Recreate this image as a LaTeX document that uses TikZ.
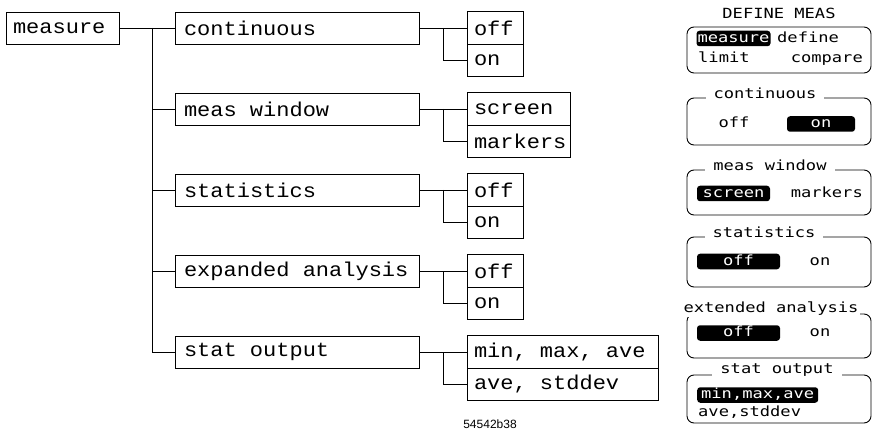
\documentclass[tikz,border=0pt]{standalone}
\usepackage{fontspec}
\usepackage{tikz}
\usetikzlibrary{positioning,calc}
\newfontfamily\plotfont[FakeStretch=1.1]{Liberation Mono}
\newfontfamily\lcdfont[FakeStretch=1.22]{DejaVu Sans Mono}
\newfontfamily\tagfont{Liberation Sans}

\begin{document}
\begin{tikzpicture}[
x=1pt,y=-1pt,
box/.style={draw,line width=0.8pt,outer sep=0pt,inner xsep=7pt,inner ysep=2pt,font=\plotfont\fontsize{20}{22}\selectfont,
  execute at begin node={\spaceskip=13.2pt\relax}},
mainbox/.style={box,text width=226pt,inner xsep=9pt,minimum height=32pt},
subbox/.style={box,text width=#1,minimum height=32.5pt},
link/.style={line width=0.8pt},
panel/.style={draw,line width=0.9pt,rounded corners=7pt},
lcd/.style={inner xsep=1pt,inner ysep=1pt,text height=10.5pt,text depth=3pt,font=\lcdfont\fontsize{14}{16}\selectfont},
ptitle/.style={lcd,fill=white,inner xsep=8pt},
hl/.style={lcd,fill=black,text=white,rounded corners=3pt,inner xsep=1pt}
]
\useasboundingbox (0,0) rectangle (872,430);

\node[mainbox,anchor=west] (cont) at (175,28) {continuous};
\node[mainbox,below=49pt of cont] (win) {meas window};
\node[mainbox,below=49pt of win] (stats) {statistics};
\node[mainbox,below=49pt of stats] (expd) {expanded analysis};
\node[mainbox,below=49pt of expd] (sout) {stat output};
\node[box,text width=99pt,minimum height=32pt,left=56pt of cont] (measure) {measure};

\node[subbox=42pt,right=48pt of cont] (contoff) {off};
\node[subbox=42pt,below=0pt of contoff] (conton) {on};
\node[subbox=89pt,right=48pt of win] (winscr) {screen};
\node[subbox=89pt,below=0pt of winscr] (winmark) {markers};
\node[subbox=42pt,right=48pt of stats] (statsoff) {off};
\node[subbox=42pt,below=0pt of statsoff] (statson) {on};
\node[subbox=42pt,right=48pt of expd] (expdoff) {off};
\node[subbox=42pt,below=0pt of expdoff] (expdon) {on};
\node[subbox=177pt,right=48pt of sout] (soutmin) {min, max, ave};
\node[subbox=177pt,below=0pt of soutmin] (soutdev) {ave, stddev};

\coordinate (trunk) at (152,28);
\draw[link] (measure) -- (cont);
\draw[link] (trunk) |- (sout);
\draw[link] (trunk |- win) -- (win);
\draw[link] (trunk |- stats) -- (stats);
\draw[link] (trunk |- expd) -- (expd);

\draw[link] (cont) -- (contoff);
\draw[link] ($(cont.east)!.5!(contoff.west)$) |- (conton);
\draw[link] (win) -- (winscr);
\draw[link] ($(win.east)!.5!(winscr.west)$) |- (winmark);
\draw[link] (stats) -- (statsoff);
\draw[link] ($(stats.east)!.5!(statsoff.west)$) |- (statson);
\draw[link] (expd) -- (expdoff);
\draw[link] ($(expd.east)!.5!(expdoff.west)$) |- (expdon);
\draw[link] (sout) -- (soutmin);
\draw[link] ($(sout.east)!.5!(soutmin.west)$) |- (soutdev);

\node[font=\tagfont\fontsize{12}{12}\selectfont] (figid) at (490,424) {54542b38};

\node[lcd] (dtitle) at (779,15) {DEFINE MEAS};
\draw[panel] (687,27) rectangle (871,73);
\node[hl,minimum width=73pt] (pmeasure) at (733.5,38.5) {measure};
\node[lcd,anchor=west] (pdefine) at (776,38.5) {define};
\node[lcd,anchor=west] (plimit) at (697,59) {limit};
\node[lcd,anchor=east] (pcompare) at (864,59) {compare};

\draw[panel] (687,98) rectangle (871,145);
\node[ptitle] (tcont) at (765,95) {continuous};
\node[lcd] (pcontoff) at (734,124) {off};
\node[hl,minimum width=68pt] (pconton) at (821,124) {on};

\draw[panel] (687,170) rectangle (871,215);
\node[ptitle] (twin) at (770,167) {meas window};
\node[hl,minimum width=73pt] (pscreen) at (733.5,193.5) {screen};
\node[lcd,anchor=east] (pmarkers) at (864,193.5) {markers};

\draw[panel] (687,237) rectangle (871,287);
\node[ptitle] (tstats) at (764,234) {statistics};
\node[hl,minimum width=83pt] (pstatsoff) at (738.5,261.5) {off};
\node[lcd] (pstatson) at (820,261.5) {on};

\draw[panel] (687,314) rectangle (871,358);
\node[ptitle,inner xsep=2pt] (texpd) at (771,309) {extended analysis};
\node[hl,minimum width=83pt] (pexpdoff) at (738.5,333) {off};
\node[lcd] (pexpdon) at (820,333) {on};

\draw[panel] (687,375) rectangle (871,423);
\node[ptitle] (tsout) at (777,370) {stat output};
\node[hl,anchor=west,minimum width=121pt] (pmin) at (697,395) {min,max,ave};
\node[lcd,anchor=west] (pdev) at (697,413) {ave,stddev};
\end{tikzpicture}
\end{document}
